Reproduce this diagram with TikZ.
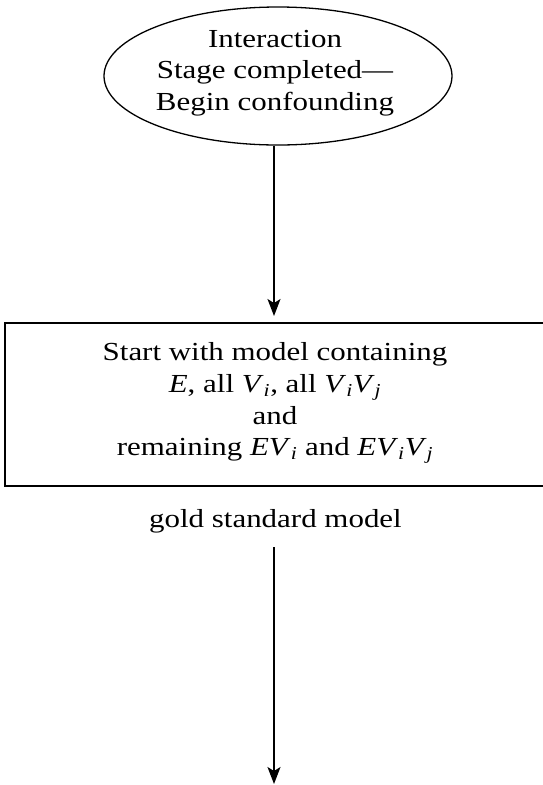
\documentclass[tikz,border=0pt]{standalone}
\usepackage{fontspec}
\setmainfont[FakeStretch=1.19]{Liberation Serif}
\usetikzlibrary{arrows.meta,shapes.geometric}
\newcommand\isub[1]{\textsubscript{\textit{#1}}}
\begin{document}
\begin{tikzpicture}[x=1pt,y=1pt,
  line width=1.3pt,
  txt/.style={font=\fontsize{26}{31.8}\selectfont, align=center, inner sep=0pt},
  arr/.style={-{Stealth[length=17pt,width=13pt,inset=4pt]}}]
\useasboundingbox (0,0) rectangle (542,-785);
\node[ellipse, draw, minimum width=348pt, minimum height=138pt, inner sep=0pt] (start) at (278,-76) {};
\node[txt] (starttxt) at (275,-73) {Interaction\\Stage completed—\\Begin confounding};
\node[draw, minimum width=541pt, minimum height=163pt, inner sep=0pt] (box) at (275.5,-404.5) {};
\node[txt] (boxtxt) at (275,-403) {Start with model containing\\\textit{E}, all \textit{V}\isub{i}, all \textit{V}\isub{i}\textit{V}\isub{j}\\and\\remaining \textit{EV}\isub{i} and \textit{EV}\isub{i}\textit{V}\isub{j}};
\node[txt, anchor=base] (gold) at (275.5,-527) {gold standard model};
\coordinate (boxtop) at (274,-316);
\coordinate (g2) at (274,-547);
\coordinate (end) at (274,-784);
\draw[arr] (boxtop |- start.south) -- (boxtop);
\draw[arr] (g2) -- (end);
\end{tikzpicture}
\end{document}
